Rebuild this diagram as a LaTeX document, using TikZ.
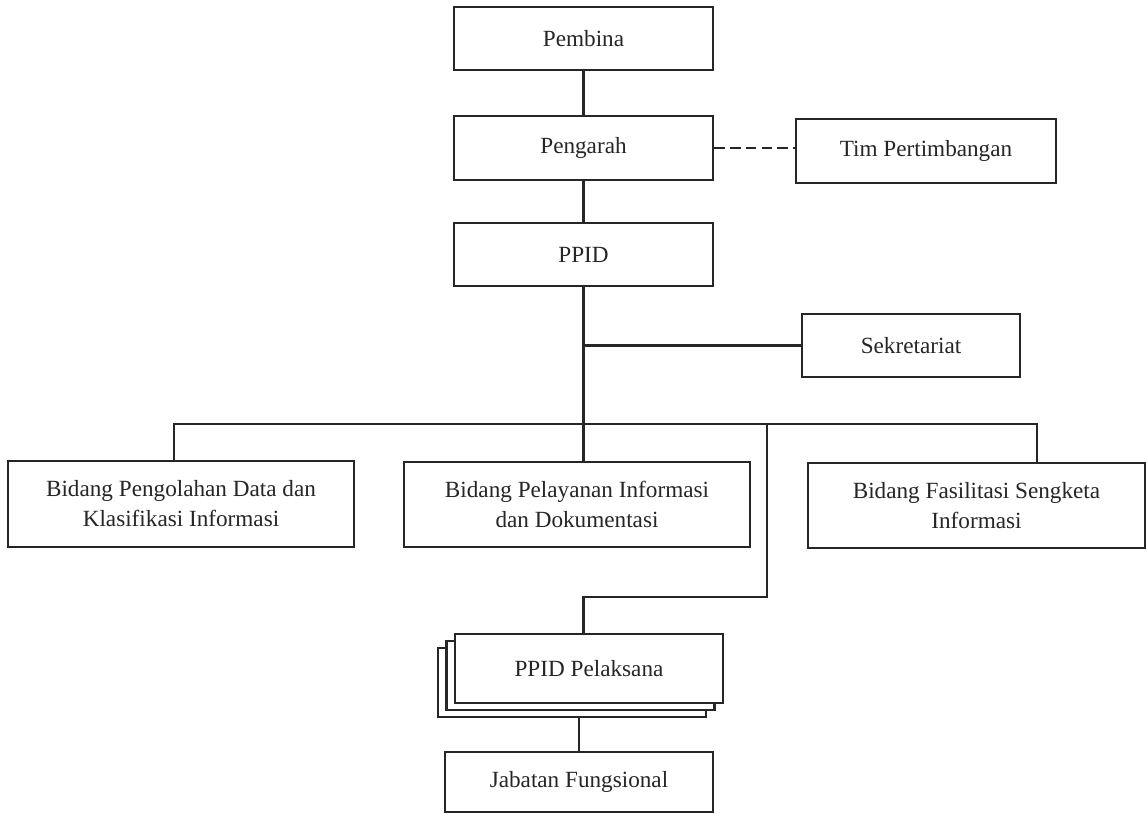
\documentclass[tikz,border=0pt]{standalone}
\usepackage{fontspec}
\setmainfont{Liberation Serif}
\begin{document}
\begin{tikzpicture}[
                x=0.02cm, y=-0.02cm,
                box/.style={
                    draw=black!85, line width=1.3pt, fill=white, rectangle,
                    align=center, inner sep=0pt, text=black!85,
                    font=\fontsize{13.2}{17}\selectfont
                },
                link/.style={
                    draw=black!85, line width=1.5pt
                }
            ]
            \useasboundingbox (0,0) rectangle (1147,814);
            % nodes
            \node[box, minimum width=259*0.02cm, minimum height=63*0.02cm] (pembina) at (583.5, 38.5) {Pembina};
            \node[box, minimum width=259*0.02cm, minimum height=64*0.02cm] (pengarah) at (583.5, 148) {Pengarah};
            \node[box, minimum width=259*0.02cm, minimum height=63*0.02cm] (ppid) at (583.5, 254.5) {PPID};
            \node[box, minimum width=260*0.02cm, minimum height=64*0.02cm] (tim) at (926, 151) {Tim Pertimbangan};
            \node[box, minimum width=218*0.02cm, minimum height=63*0.02cm] (sekretariat) at (911, 345.5) {Sekretariat};
            \node[box, minimum width=346*0.02cm, minimum height=86*0.02cm] (pengolahan) at (181, 504) {Bidang Pengolahan Data dan\\Klasifikasi Informasi};
            \node[box, minimum width=346*0.02cm, minimum height=85*0.02cm] (pelayanan) at (577, 504.5) {Bidang Pelayanan Informasi\\dan Dokumentasi};
            \node[box, minimum width=337*0.02cm, minimum height=85*0.02cm] (fasilitasi) at (976.5, 505.5) {Bidang Fasilitasi Sengketa\\Informasi};
            \node[box, minimum width=268*0.02cm, minimum height=69*0.02cm] (pelaksanaC) at (572, 682.5) {};
            \node[box, minimum width=268*0.02cm, minimum height=69*0.02cm] (pelaksanaB) at (580.5, 675.5) {};
            \node[box, minimum width=268*0.02cm, minimum height=69*0.02cm] (pelaksana) at (589, 668.5) {PPID Pelaksana};
            \node[box, minimum width=268*0.02cm, minimum height=60*0.02cm] (jabatan) at (579, 782) {Jabatan Fungsional};

            \coordinate (busL) at (174, 424);
            \coordinate (busR) at (1037, 424);
            \coordinate (branch) at (767, 424);
            \coordinate (elbow) at (583.5, 597);

            % connectors
            \draw[link] (pembina) -- (pengarah);
            \draw[link, dashed, dash pattern=on 6pt off 3pt] (pengarah.east) -- (pengarah.east -| tim.west);
            \draw[link] (pengarah) -- (ppid);
            \draw[link] (ppid.south) -- (ppid.south |- pelayanan.north);
            \draw[link] (ppid.south |- sekretariat.west) -- (sekretariat.west);
            \draw[link] (busL |- pengolahan.north) -- (busL) -- (busR) -- (busR |- fasilitasi.north);
            \draw[link] (branch) |- (elbow) -- (elbow |- pelaksana.north);
            \draw[link] (jabatan.north) -- (jabatan.north |- pelaksanaC.south);
            \end{tikzpicture}
\end{document}
